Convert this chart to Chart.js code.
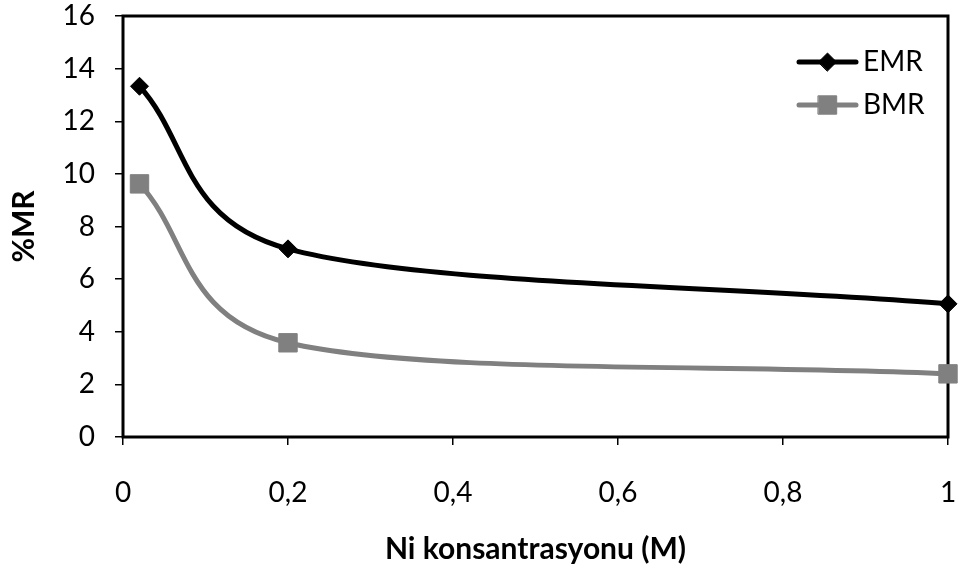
<!DOCTYPE html>
<html>
<head>
<meta charset="utf-8">
<script src="https://cdn.jsdelivr.net/npm/chart.js@4"></script>
<style>
  html, body { margin: 0; padding: 0; background: #fff; }
  #wrap { width: 964px; height: 569px; }
</style>
</head>
<body>
<div id="wrap"><canvas id="chart"></canvas></div>
<script>
const concentrations = [0.02, 0.2, 1];
const emrValues = [13.33, 7.15, 5.06];
const bmrValues = [9.62, 3.58, 2.4];
const xTicks = [0, 0.2, 0.4, 0.6, 0.8, 1];
const yTicks = [0, 2, 4, 6, 8, 10, 12, 14, 16];

const FONT = "Lato, 'Open Sans', sans-serif";

function toPoints(xs, ys)
{
    return xs.map((x, i) => ({ x: x, y: ys[i] }));
}

function formatComma(v)
{
    return String(Math.round(v * 10) / 10).replace(".", ",");
}

// frame around the plot area
const frame = {
    id: "frame",
    beforeDatasetsDraw(chart) {
        const {ctx, chartArea: a} = chart;
        ctx.save();
        ctx.strokeStyle = "#000";
        ctx.lineWidth = 3;
        ctx.strokeRect(a.left, a.top, a.right - a.left, a.bottom - a.top);
        ctx.restore();
    }
};

// spreadsheet-style smoothing: tangent (next - prev) / 6, arm capped at half the segment
const smoothLine = {
    id: "smoothLine",
    beforeDatasetDraw(chart, args) {
        const line = args.meta.dataset;
        const pts = args.meta.data;
        if (!line || pts.length < 2) return;
        line.updateControlPoints(chart.chartArea, "x");
        const n = pts.length;
        for (let i = 0; i < n; i++) {
            const p = pts[i];
            if (i === 0) {
                const q = pts[1];
                p.cp1x = p.x; p.cp1y = p.y;
                p.cp2x = p.x + (q.x - p.x) / 3;
                p.cp2y = p.y + (q.y - p.y) / 3;
            } else if (i === n - 1) {
                const q = pts[n - 2];
                p.cp2x = p.x; p.cp2y = p.y;
                p.cp1x = p.x + (q.x - p.x) / 3;
                p.cp1y = p.y + (q.y - p.y) / 3;
            } else {
                const a = pts[i - 1], b = pts[i + 1];
                const vx = (b.x - a.x) / 6, vy = (b.y - a.y) / 6;
                const len = Math.hypot(vx, vy) || 1;
                const kIn = Math.min(1, 0.5 * Math.hypot(p.x - a.x, p.y - a.y) / len);
                const kOut = Math.min(1, 0.5 * Math.hypot(b.x - p.x, b.y - p.y) / len);
                p.cp1x = p.x - vx * kIn; p.cp1y = p.y - vy * kIn;
                p.cp2x = p.x + vx * kOut; p.cp2y = p.y + vy * kOut;
            }
        }
        delete line._path;
    }
};

// legend drawn as line + marker like the spreadsheet one
const lineLegend = {
    id: "lineLegend",
    afterDatasetsDraw(chart) {
        const {ctx, chartArea: a} = chart;
        ctx.save();
        chart.data.datasets.forEach((ds, i) => {
            const y = a.top + 46 + i * 43;
            const x0 = a.right - 149, x1 = a.right - 92;
            ctx.strokeStyle = ds.borderColor;
            ctx.lineWidth = ds.borderWidth;
            ctx.lineCap = "round";
            ctx.beginPath();
            ctx.moveTo(x0, y);
            ctx.lineTo(x1, y);
            ctx.stroke();
            ctx.fillStyle = ds.pointBackgroundColor;
            ctx.strokeStyle = ds.pointBorderColor;
            ctx.lineWidth = 1;
            Chart.helpers.drawPoint(ctx, {
                pointStyle: ds.pointStyle,
                radius: ds.pointRadius,
                borderWidth: 1
            }, (x0 + x1) / 2, y);
            ctx.fillStyle = "#000";
            ctx.font = "28px " + FONT;
            ctx.textBaseline = "middle";
            ctx.textAlign = "left";
            ctx.fillText(ds.label, a.right - 85, y);
        });
        ctx.restore();
    }
};

const ctx = document.getElementById("chart").getContext("2d");
const chart = new Chart(ctx, {
    type: "line",
    data: {
        datasets: [{
            label: "EMR",
            data: toPoints(concentrations, emrValues),
            borderColor: "#000000",
            borderWidth: 5,
            pointStyle: "rectRot",
            pointRadius: 9,
            pointBackgroundColor: "#000000",
            pointBorderColor: "#000000",
            pointBorderWidth: 1,
            tension: 0.4,
            clip: false
        }, {
            label: "BMR",
            data: toPoints(concentrations, bmrValues),
            borderColor: "#808080",
            borderWidth: 5,
            pointStyle: "rect",
            pointRadius: 13,
            pointBackgroundColor: "#808080",
            pointBorderColor: "#808080",
            pointBorderWidth: 1,
            tension: 0.4,
            clip: false
        }]
    },
    options: {
        responsive: true,
        maintainAspectRatio: false,
        animation: false,
        layout: {
            padding: { top: 16, right: 16, left: 0, bottom: 0 }
        },
        plugins: {
            legend: { display: false },
            tooltip: { enabled: false }
        },
        scales: {
            x: {
                type: "linear",
                min: 0,
                max: 1,
                afterFit(scale) {
                    scale.height = 132;
                    scale.paddingLeft = 0;
                    scale.paddingRight = 0;
                },
                afterBuildTicks(scale) { scale.ticks = xTicks.map(v => ({ value: v })); },
                border: { display: false },
                grid: {
                    drawOnChartArea: false,
                    drawTicks: true,
                    tickLength: 8,
                    color: "#000",
                    lineWidth: 1.5
                },
                ticks: {
                    color: "#000",
                    font: { family: FONT, size: 28 },
                    padding: 31,
                    maxRotation: 0,
                    callback: v => formatComma(v)
                },
                title: {
                    display: true,
                    text: "Ni konsantrasyonu (M)",
                    color: "#000",
                    font: { family: FONT, size: 30, weight: "bold" },
                    padding: { top: 0, bottom: 2 }
                }
            },
            y: {
                min: 0,
                max: 16,
                afterFit(scale) {
                    scale.width = 123;
                    scale.paddingTop = 0;
                    scale.paddingBottom = 0;
                },
                afterBuildTicks(scale) { scale.ticks = yTicks.map(v => ({ value: v })); },
                border: { display: false },
                grid: {
                    drawOnChartArea: false,
                    drawTicks: true,
                    tickLength: 8,
                    color: "#000",
                    lineWidth: 1.5
                },
                ticks: {
                    color: "#000",
                    font: { family: FONT, size: 28 },
                    padding: 20
                },
                title: {
                    display: true,
                    text: "%MR",
                    color: "#000",
                    font: { family: FONT, size: 30, weight: "bold" },
                    padding: { top: 6, bottom: 0 }
                }
            }
        }
    },
    plugins: [frame, smoothLine, lineLegend]
});
</script>
</body>
</html>
